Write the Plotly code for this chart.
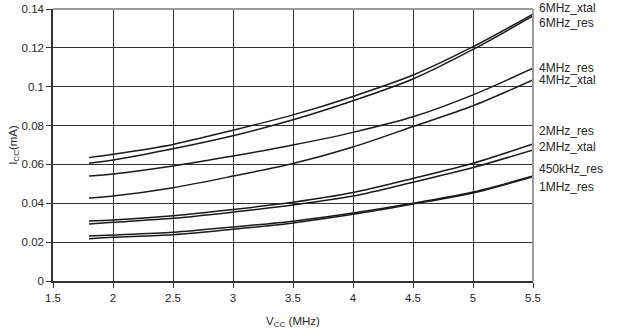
import plotly.graph_objects as go

vcc = [1.8, 2.0, 2.5, 3.0, 3.5, 4.0, 4.5, 5.0, 5.5]

names = ["6MHz_xtal", "6MHz_res", "4MHz_res", "4MHz_xtal",
         "2MHz_res", "2MHz_xtal", "450kHz_res", "1MHz_res"]

mhz6_xtal = [0.0635, 0.0652, 0.0703, 0.0776, 0.0855, 0.0950, 0.1060, 0.1206, 0.1374]
mhz6_res = [0.0606, 0.0623, 0.0681, 0.0748, 0.0830, 0.0928, 0.1040, 0.1192, 0.1364]
mhz4_res = [0.0540, 0.0551, 0.0592, 0.0643, 0.0700, 0.0765, 0.0845, 0.0958, 0.1095]
mhz4_xtal = [0.0427, 0.0437, 0.0480, 0.0540, 0.0605, 0.0690, 0.0795, 0.0902, 0.1035]
mhz2_res = [0.0309, 0.0314, 0.0336, 0.0368, 0.0405, 0.0455, 0.0528, 0.0606, 0.0705]
mhz2_xtal = [0.0293, 0.0302, 0.0323, 0.0355, 0.0391, 0.0437, 0.0508, 0.0584, 0.0674]
khz450_res = [0.0232, 0.0237, 0.0251, 0.0278, 0.0308, 0.0350, 0.0400, 0.0458, 0.0540]
mhz1_res = [0.0218, 0.0225, 0.0238, 0.0266, 0.0299, 0.0343, 0.0396, 0.0453, 0.0537]

series = [mhz6_xtal, mhz6_res, mhz4_res, mhz4_xtal,
          mhz2_res, mhz2_xtal, khz450_res, mhz1_res]

# vertical placement of the right-hand labels (data units)
label_y = [0.1405, 0.1328, 0.1098, 0.1033, 0.0772, 0.0690, 0.0576, 0.0484]

x_ticks = [1.5, 2, 2.5, 3, 3.5, 4, 4.5, 5, 5.5]
y_ticks = [0, 0.02, 0.04, 0.06, 0.08, 0.1, 0.12, 0.14]
Y_MAX = 0.14

FONT = "Liberation Sans, Arial, sans-serif"
DARK = "#262626"

fig = go.Figure()
for name, vals in zip(names, series):
    fig.add_trace(go.Scatter(
        x=vcc, y=vals, name=name, mode="lines",
        line=dict(color="#1a1a1a", width=1.5, shape="spline", smoothing=0.8),
        hoverinfo="skip", showlegend=False))

for name, ly in zip(names, label_y):
    fig.add_annotation(x=1.0, y=ly / Y_MAX, xref="paper", yref="paper", text=name,
                       showarrow=False, xanchor="left", yanchor="middle",
                       xshift=4, font=dict(family=FONT, size=12, color=DARK))

# grey frame on top and right
fig.add_shape(type="line", xref="paper", yref="paper", x0=0, x1=1, y0=1, y1=1,
              line=dict(color="#9a9a9a", width=2), layer="above")
fig.add_shape(type="line", xref="paper", yref="paper", x0=1, x1=1, y0=0, y1=1,
              line=dict(color="#9a9a9a", width=2), layer="above")

fig.update_layout(
    width=619, height=332,
    margin=dict(l=53, r=86, t=9, b=51),
    paper_bgcolor="white", plot_bgcolor="white",
    font=dict(family=FONT, size=11.5, color=DARK),
    xaxis=dict(range=[1.5, 5.5], tickvals=x_ticks, ticktext=[f"{v:g}" for v in x_ticks],
               showgrid=True, gridcolor="#333333", gridwidth=1.3,
               showline=True, linecolor="#333333", linewidth=1.5,
               ticks="outside", ticklen=5, tickcolor="#333333", zeroline=False,
               automargin=False,
               tickfont=dict(family=FONT, size=11.5, color=DARK),
               title=dict(text="V<sub>CC</sub> (MHz)", standoff=14,
                          font=dict(family=FONT, size=11.5, color=DARK))),
    yaxis=dict(range=[0, Y_MAX], tickvals=y_ticks, ticktext=[f"{v:g}" for v in y_ticks],
               showgrid=True, gridcolor="#333333", gridwidth=1.3,
               showline=True, linecolor="#333333", linewidth=1.5,
               ticks="outside", ticklen=5, tickcolor="#333333", zeroline=False,
               automargin=False,
               tickfont=dict(family=FONT, size=11.5, color=DARK),
               title=dict(text="I<sub>CC</sub>(mA)", standoff=2,
                          font=dict(family=FONT, size=11.5, color=DARK))),
)

fig.write_html("out.html")
